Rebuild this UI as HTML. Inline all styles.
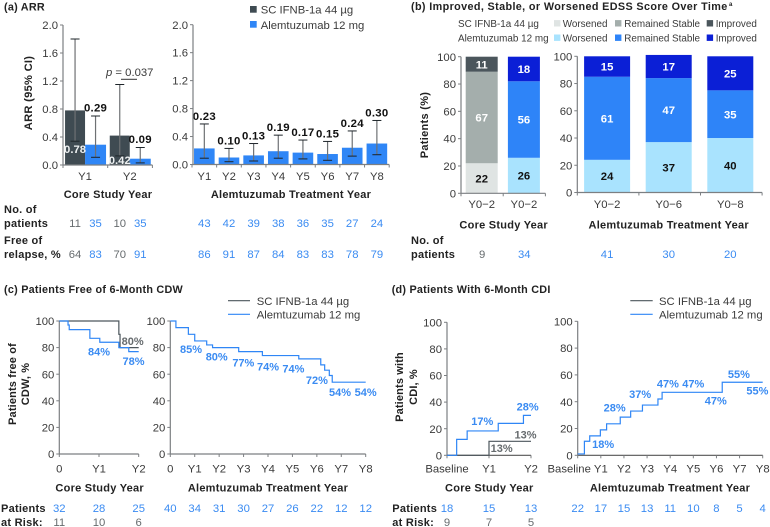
<!DOCTYPE html>
<html lang="en">
<head>
<meta charset="utf-8">
<title>ARR, EDSS, CDW and CDI outcomes</title>
<style>
html,body{margin:0;padding:0;background:#fff;}
#figure{display:block;width:770px;height:527px;font-family:"Liberation Sans",Arial,sans-serif;}
</style>
</head>
<body>
<svg id="figure" xmlns="http://www.w3.org/2000/svg" width="770" height="527" viewBox="0 0 770 527"></svg>
<script>
// ---------- Panel (a) data ----------
const arrCoreYears = ['Y1', 'Y2'];
const arrCoreIfnb = [0.78, 0.42];
const arrCoreIfnbLow = [0.34, 0.13];
const arrCoreIfnbHigh = [1.80, 1.15];
const arrCoreAlem = [0.29, 0.09];
const arrCoreAlemLow = [0.11, 0.03];
const arrCoreAlemHigh = [0.70, 0.25];
const arrTicks = [0, 0.4, 0.8, 1.2, 1.6, 2.0];
const arrLongYears = ['Y1', 'Y2', 'Y3', 'Y4', 'Y5', 'Y6', 'Y7', 'Y8'];
const arrLong = [0.23, 0.10, 0.13, 0.19, 0.17, 0.15, 0.24, 0.30];
const arrLongLow = [0.09, 0.04, 0.05, 0.09, 0.08, 0.06, 0.12, 0.14];
const arrLongHigh = [0.58, 0.23, 0.30, 0.42, 0.35, 0.33, 0.48, 0.63];
const arrPatientsCore = [11, 35, 10, 35];
const arrFreeCore = [64, 83, 70, 91];
const arrPatientsLong = [43, 42, 39, 38, 36, 35, 27, 24];
const arrFreeLong = [86, 91, 87, 84, 83, 83, 78, 79];

// ---------- Panel (b) data ----------
const edssCoreCats = ['Y0\u22122', 'Y0\u22122'];
const edssCoreWorsened = [22, 26];
const edssCoreStable = [67, 56];
const edssCoreImproved = [11, 18];
const edssLongCats = ['Y0\u22122', 'Y0\u22126', 'Y0\u22128'];
const edssLongWorsened = [24, 37, 40];
const edssLongStable = [61, 47, 35];
const edssLongImproved = [15, 17, 25];
const edssTicks = [0, 20, 40, 60, 80, 100];
const edssPatientsCore = [9, 34];
const edssPatientsLong = [41, 30, 20];

// ---------- Panel (c) data ----------
const pctTicks = [0, 20, 40, 60, 80, 100];
const cCoreXLabels = ['0', 'Y1', 'Y2'];
const cLongXLabels = ['0', 'Y1', 'Y2', 'Y3', 'Y4', 'Y5', 'Y6', 'Y7', 'Y8'];
const cCoreIfnbTime = [0, 1.5, 1.53, 2];
const cCoreIfnbValue = [100, 90, 80, 80];
const cCoreAlemTime = [0, 0.22, 0.25, 0.77, 1.02, 1.5, 1.75, 2];
const cCoreAlemValue = [100, 97, 93.5, 87, 84, 80, 77, 77];
const cLongAlemTime = [0, 0.23, 0.74, 1.0, 1.49, 1.73, 2.8, 3.77, 5.26, 6.16, 6.32, 6.51, 6.63, 8];
const cLongAlemValue = [100, 95, 90, 85, 82, 80, 77, 74, 71.5, 67, 63, 59, 54, 54];
const cCoreAlemLabels = [84, 78];
const cCoreIfnbLabels = [80];
const cLongLabels = [85, 80, 77, 74, 74, 72, 54, 54];
const cCoreRiskAlem = [32, 28, 25];
const cCoreRiskIfnb = [11, 10, 6];
const cLongRisk = [40, 34, 31, 30, 27, 26, 22, 12, 12];

// ---------- Panel (d) data ----------
const dCoreXLabels = ['Baseline', 'Y1', 'Y2'];
const dLongXLabels = ['Baseline', 'Y1', 'Y2', 'Y3', 'Y4', 'Y5', 'Y6', 'Y7', 'Y8'];
const dCoreIfnbTime = [0, 1, 2];
const dCoreIfnbValue = [0, 10.5, 10.5];
const dCoreAlemTime = [0, 0.23, 0.48, 1.22, 1.82, 2];
const dCoreAlemValue = [0, 12, 18.3, 24, 30, 30];
const dLongAlemTime = [0, 0.29, 0.52, 0.98, 1.25, 1.84, 2.29, 2.8, 3.47, 3.65, 6.25, 8];
const dLongAlemValue = [1, 10.5, 14.5, 19, 23.5, 28.5, 33, 37.5, 42, 47, 54.5, 54.5];
const dCoreAlemLabels = [17, 28];
const dCoreIfnbLabels = [13, 13];
const dLongLabels = [18, 28, 37, 47, 47, 47, 55, 55];
const dCoreRiskAlem = [18, 15, 13];
const dCoreRiskIfnb = [9, 7, 5];
const dLongRisk = [22, 17, 15, 13, 11, 10, 8, 5, 4];

// ---------- Colours ----------
const BLUE = '#2f86f6', TXTBLUE = '#3a8bf2', DARK = '#3f4b52', TXT = '#3a3a3a', GREY = '#666b6e', AXIS = '#7c7f82', INK = '#1d2429';
const FS = 11.3;

const root = document.getElementById('figure');
const NS = 'http://www.w3.org/2000/svg';

function el(tag, name, attrs) {
  const e = document.createElementNS(NS, tag);
  
  
  for (const k in attrs) e.setAttribute(k, attrs[k]);
  root.appendChild(e);
  return e;
}
function line(name, x1, y1, x2, y2, stroke, w) {
  return el('line', name, {x1, y1, x2, y2, stroke, 'stroke-width': w || 1});
}
function rect(name, x, y, w, h, fill) {
  return el('rect', name, {x, y, width: w, height: h, fill});
}
function text(name, str, x, y, o) {
  o = o || {};
  const e = el('text', name, {
    x, y: y + (o.size || FS) * 0.36,
    'font-size': o.size || FS,
    'font-weight': o.bold ? 700 : 400,
    'text-anchor': o.anchor || 'middle',
    fill: o.fill || TXT,
    'letter-spacing': o.ls || 0
  });
  if (o.rot) e.setAttribute('transform', 'rotate(-90 ' + x + ' ' + y + ')');
  if (o.italicP) {
    const p = document.createElementNS(NS, 'tspan');
    p.setAttribute('font-style', 'italic');
    p.textContent = 'p';
    e.appendChild(p);
    e.appendChild(document.createTextNode(str));
  } else {
    e.textContent = str;
  }
  return e;
}
function title(name, str, x, y, ls) { return text(name, str, x, y, {bold: true, anchor: 'start', size: 10.8, fill: '#222', ls: ls || 0.25}); }
function bold(name, str, x, y, o) { return text(name, str, x, y, Object.assign({bold: true, size: 11, fill: '#222', ls: 0.25}, o || {})); }
function yTitle(name, str, x, y, size, ls) { return text(name, str, x, y, {bold: true, rot: true, size: size, fill: '#222', ls: ls}); }

function linear(d0, d1, r0, r1) { return v => r0 + (v - d0) / (d1 - d0) * (r1 - r0); }

function yAxis(name, x, y, ticks, fmt) {
  const all = ticks.map(y);
  line(name + '-line', x, Math.min(...all), x, Math.max(...all), AXIS, 1.2);
  ticks.forEach(t => {
    line(name + '-tick', x - 3, y(t), x, y(t), AXIS, 1);
    text(name + '-label', fmt(t), x - 5, y(t), {anchor: 'end'});
  });
}

function ci(name, x, lo, hi, y, capHalf) {
  line(name + '-stem', x, y(hi), x, y(lo), '#6e7174', 1.2);
  line(name + '-cap-high', x - capHalf, y(hi), x + capHalf, y(hi), INK, 1);
  line(name + '-cap-low', x - capHalf, y(lo), x + capHalf, y(lo), INK, 1);
}

// ---------- Panel (a) ----------
title('panel-a-title', '(a) ARR', 4, 6.5);
rect('legend-swatch-ifnb', 250, 6, 6.7, 6.7, DARK);
text('legend-label-ifnb', 'SC IFNB-1a 44 \u00b5g', 260.7, 9.5, {anchor: 'start'});
rect('legend-swatch-alemtuzumab', 250, 21, 6.7, 6.7, BLUE);
text('legend-label-alemtuzumab', 'Alemtuzumab 12 mg', 260.7, 24.7, {anchor: 'start'});

(function () {
  const y = linear(0, 2, 165, 25);
  const x0 = 63, step = 44.7;
  const cx = i => x0 + (i + 0.5) * step;
  arrCoreYears.forEach((c, i) => {
    const m = cx(i) - 0.3;
    rect('bar-ifnb-' + c, m - 20, y(arrCoreIfnb[i]), 20, y(0) - y(arrCoreIfnb[i]), DARK);
    rect('bar-alemtuzumab-' + c, m, y(arrCoreAlem[i]), 21, y(0) - y(arrCoreAlem[i]), BLUE);
    ci('ci-ifnb-' + c, m - 10, arrCoreIfnbLow[i], arrCoreIfnbHigh[i], y, 4.5);
    ci('ci-alemtuzumab-' + c, m + 10.5, arrCoreAlemLow[i], arrCoreAlemHigh[i], y, 4.5);
    text('value-ifnb-' + c, arrCoreIfnb[i].toFixed(2), m - 10, y(0) - [16, 5][i], {bold: true, fill: '#eef1f2', size: 11.3});
    bold('value-alemtuzumab-' + c, arrCoreAlem[i].toFixed(2), m + 10.5, y(arrCoreAlemHigh[i]) - 8.5, {size: 11.4, fill: '#111'});
    text('x-label-' + c, c, m, 175.7);
    line('x-tick-' + c, x0 + (i + 1) * step, y(0), x0 + (i + 1) * step, y(0) + 3, AXIS, 1);
  });
  line('x-axis-line', x0, y(0), x0 + 2 * step, y(0), AXIS, 1.2);
  line('x-tick-origin', x0, y(0), x0, y(0) + 3, AXIS, 1);
  yAxis('arr-core-y-axis', x0, y, arrTicks, t => t.toFixed(1));
  text('p-value', ' = 0.037', 106, 71.7, {anchor: 'start', italicP: true});
  line('p-value-bracket', 121, 79.3, 137, 79.3, '#333', 1);
  yTitle('y-axis-title-arr', 'ARR (95% CI)', 28, 93, 11.2, 0.25);
  bold('x-axis-title-core', 'Core Study Year', 108, 194);

  const y2 = linear(0, 2, 164.5, 24.7);
  const xr0 = 192, sr = 24.65;
  const cr = i => xr0 + (i + 0.5) * sr;
  arrLongYears.forEach((c, i) => {
    rect('bar-long-' + c, cr(i) - 10.3, y2(arrLong[i]), 20.6, y2(0) - y2(arrLong[i]), BLUE);
    ci('ci-long-' + c, cr(i), arrLongLow[i], arrLongHigh[i], y2, 4.5);
    bold('value-long-' + c, arrLong[i].toFixed(2), cr(i), y2(arrLongHigh[i]) - 8, {size: 11.4, fill: '#111'});
    text('x-label-long-' + c, c, cr(i), 175.7);
    line('x-tick-long', xr0 + (i + 1) * sr, y2(0), xr0 + (i + 1) * sr, y2(0) + 3, AXIS, 1);
  });
  line('x-axis-line-long', xr0, y2(0), xr0 + 8 * sr, y2(0), AXIS, 1.2);
  line('x-tick-long-origin', xr0, y2(0), xr0, y2(0) + 3, AXIS, 1);
  yAxis('arr-long-y-axis', xr0 + 1, y2, arrTicks, t => t.toFixed(1));
  bold('x-axis-title-long', 'Alemtuzumab Treatment Year', 291, 194);

  bold('row-label-patients-1', 'No. of', 4, 209, {anchor: 'start'});
  bold('row-label-patients-2', 'patients', 4, 223, {anchor: 'start'});
  bold('row-label-relapse-1', 'Free of', 4, 240, {anchor: 'start'});
  bold('row-label-relapse-2', 'relapse, %', 4, 254, {anchor: 'start'});
  const coreXs = i => cx(Math.floor(i / 2)) - 0.3 + (i % 2 ? 10.5 : -10);
  arrPatientsCore.forEach((v, i) => text('patients-core', String(v), coreXs(i), 223, {fill: i % 2 ? TXTBLUE : GREY}));
  arrFreeCore.forEach((v, i) => text('free-of-relapse-core', String(v), coreXs(i), 254, {fill: i % 2 ? TXTBLUE : GREY}));
  arrPatientsLong.forEach((v, i) => text('patients-long', String(v), cr(i), 223, {fill: TXTBLUE}));
  arrFreeLong.forEach((v, i) => text('free-of-relapse-long', String(v), cr(i), 254, {fill: TXTBLUE}));
})();

// ---------- Panel (b) ----------
title('panel-b-title', '(b) Improved, Stable, or Worsened EDSS Score Over Time', 411, 6, 0.37);
text('panel-b-footnote', 'a', 729, 3.6, {bold: true, size: 6, anchor: 'start', fill: '#222'});

const EDSS_IFNB = ['#dfe4e3', '#a4aeac', '#4b565c'];
const EDSS_ALEM = ['#a9e3fe', '#2e84f8', '#0b1fd6'];

(function () {
  const LS = 9.9;
  const rows = [[23.3, 'SC IFNB-1a 44 \u00b5g', EDSS_IFNB, 'ifnb'], [37.7, 'Alemtuzumab 12 mg', EDSS_ALEM, 'alemtuzumab']];
  rows.forEach(r => {
    text('legend-b-row-' + r[3], r[1], 458, r[0], {anchor: 'start', size: LS});
    rect('legend-b-worsened-' + r[3], 554, r[0] - 3.2, 6.4, 6.4, r[2][0]);
    text('legend-b-worsened-label', 'Worsened', 562.7, r[0], {anchor: 'start', size: LS});
    rect('legend-b-stable-' + r[3], 615, r[0] - 3.2, 6.4, 6.4, r[2][1]);
    text('legend-b-stable-label', 'Remained Stable', 624.3, r[0], {anchor: 'start', size: LS});
    rect('legend-b-improved-' + r[3], 706.7, r[0] - 3.2, 6.4, 6.4, r[2][2]);
    text('legend-b-improved-label', 'Improved', 715.7, r[0], {anchor: 'start', size: LS});
  });

  function stacked(id, i, cx, w, y, colors, cat, vals) {
    let base = 0;
    const labelFill = ['#111', '#fff', '#fff'];
    const seg = ['worsened', 'stable', 'improved'];
    vals.forEach((v, k) => {
      rect('bar-' + id + '-' + seg[k] + '-' + i, cx - w / 2, y(base + v), w, y(base) - y(base + v), colors[k]);
      text('value-' + id + '-' + seg[k] + '-' + i, String(v), cx, (y(base) + y(base + v)) / 2, {bold: true, fill: labelFill[k], size: 11.3});
      base += v;
    });
    text('x-label-' + id + '-' + i, cat, cx, 204);
  }

  const y = linear(0, 100, 193.3, 56.7);
  const x0 = 461, step = 42.2;
  edssCoreCats.forEach((c, i) => {
    stacked('edss-core', i, x0 + (i + 0.5) * step - 0.4, 32, y, i === 0 ? EDSS_IFNB : EDSS_ALEM, c,
      [edssCoreWorsened[i], edssCoreStable[i], edssCoreImproved[i]]);
    line('x-tick-edss-core', x0 + (i + 1) * step, y(0), x0 + (i + 1) * step, y(0) + 3, AXIS, 1);
    text('patients-edss-core', String(edssPatientsCore[i]), x0 + (i + 0.5) * step, 254, {fill: i ? TXTBLUE : GREY});
  });
  line('x-axis-line-edss-core', x0, y(0), x0 + 2 * step, y(0), AXIS, 1.2);
  line('x-tick-edss-core-origin', x0, y(0), x0, y(0) + 3, AXIS, 1);
  yAxis('edss-core-y-axis', x0, y, edssTicks, String);

  const y2 = linear(0, 100, 192.5, 56.3);
  const xr0 = 577.3, sr = 61.6;
  edssLongCats.forEach((c, i) => {
    stacked('edss-long', i, xr0 + (i + 0.5) * sr - 1, 46, y2, EDSS_ALEM, c,
      [edssLongWorsened[i], edssLongStable[i], edssLongImproved[i]]);
    line('x-tick-edss-long', xr0 + (i + 1) * sr, y2(0), xr0 + (i + 1) * sr, y2(0) + 3, AXIS, 1);
    text('patients-edss-long', String(edssPatientsLong[i]), xr0 + (i + 0.5) * sr - 1, 254, {fill: TXTBLUE});
  });
  line('x-axis-line-edss-long', xr0, y2(0), xr0 + 3 * sr, y2(0), AXIS, 1.2);
  line('x-tick-edss-long-origin', xr0, y2(0), xr0, y2(0) + 3, AXIS, 1);
  yAxis('edss-long-y-axis', xr0, y2, edssTicks, String);

  yTitle('y-axis-title-patients', 'Patients (%)', 424, 125, 11, 0.3);
  bold('x-axis-title-edss-core', 'Core Study Year', 503.7, 224.7);
  bold('x-axis-title-edss-long', 'Alemtuzumab Treatment Year', 668.7, 224.7);
  bold('row-label-edss-patients-1', 'No. of', 411, 240, {anchor: 'start'});
  bold('row-label-edss-patients-2', 'patients', 411, 254, {anchor: 'start'});
})();

// ---------- Panels (c) and (d) ----------
function stepPath(name, times, values, x, y, color) {
  let d = 'M' + x(times[0]) + ' ' + y(values[0]);
  for (let i = 1; i < times.length; i++) {
    d += ' H' + x(times[i]) + ' V' + y(values[i]);
  }
  el('path', name, {d, fill: 'none', stroke: color, 'stroke-width': 1.2});
}
function kmAxes(id, xr0, xr1, x, y, xLabels, labelY, firstShift) {
  line(id + '-x-axis', xr0, y(0), xr1, y(0), id.startsWith('d') ? '#555' : AXIS, 1.2);
  xLabels.forEach((l, i) => {
    line(id + '-x-tick', x(i), y(0), x(i), y(0) + 3, AXIS, 1);
    text(id + '-x-label', l, x(i) + (i === 0 ? firstShift : 0), labelY);
  });
  yAxis(id + '-y-axis', xr0, y, pctTicks, String);
}
function kmLabels(id, values, placements, x, y, fill) {
  values.forEach((v, i) => {
    const p = placements[i];
    text(id + '-annotation', v + '%', x(p[0]), y(v) + p[1], {bold: true, fill, size: 11});
  });
}
function kmLegend(id, x1, x2, tx) {
  line(id + '-legend-line-ifnb', x1, 300.7, x2, 300.7, '#4c565c', 1.2);
  text(id + '-legend-label-ifnb', 'SC IFNB-1a 44 \u00b5g', tx, 300.7, {anchor: 'start'});
  line(id + '-legend-line-alemtuzumab', x1, 314.3, x2, 314.3, BLUE, 1.2);
  text(id + '-legend-label-alemtuzumab', 'Alemtuzumab 12 mg', tx, 314.3, {anchor: 'start'});
}

(function () {
  title('panel-c-title', '(c) Patients Free of 6-Month CDW', 4, 289);
  kmLegend('cdw', 228, 250, 256.7);
  const y = linear(0, 100, 454, 321);

  const x = linear(0, 2, 59.3, 138.7);
  kmAxes('cdw-core', 59.3, 138.7, x, y, cCoreXLabels, 468.3, 0);
  stepPath('cdw-core-ifnb-curve', cCoreIfnbTime, cCoreIfnbValue, x, y, '#4c565c');
  stepPath('cdw-core-alemtuzumab-curve', cCoreAlemTime, cCoreAlemValue, x, y, BLUE);
  kmLabels('cdw-core-alemtuzumab', cCoreAlemLabels, [[1, 9.3], [1.87, 10.8]], x, y, TXTBLUE);
  kmLabels('cdw-core-ifnb', cCoreIfnbLabels, [[2.0, -6.7]], t => x(t) - 6, y, GREY);

  const x2 = linear(0, 8, 170.3, 365.7);
  kmAxes('cdw-long', 170.3, 365.7, x2, y, cLongXLabels, 468.3, 0);
  stepPath('cdw-long-alemtuzumab-curve', cLongAlemTime, cLongAlemValue, x2, y, BLUE);
  kmLabels('cdw-long', cLongLabels,
    [[0.85, 8], [1.9, 8.7], [2.99, 11], [4, 11], [5.04, 13], [6, 22], [6.95, 10], [8, 10]], x2, y, TXTBLUE);

  yTitle('y-axis-title-cdw-1', 'Patients free of', 12, 384, 11, 0.15);
  yTitle('y-axis-title-cdw-2', 'CDW, %', 25, 384, 11, 0.15);
  bold('x-axis-title-cdw-core', 'Core Study Year', 99.7, 487.7);
  bold('x-axis-title-cdw-long', 'Alemtuzumab Treatment Year', 268, 487.7);
  bold('risk-label-cdw-1', 'Patients', 1, 508, {anchor: 'start'});
  bold('risk-label-cdw-2', 'at Risk:', 1, 522, {anchor: 'start'});
  cCoreRiskAlem.forEach((v, i) => text('cdw-core-risk-alemtuzumab', String(v), x(i), 508, {fill: TXTBLUE}));
  cCoreRiskIfnb.forEach((v, i) => text('cdw-core-risk-ifnb', String(v), x(i), 522, {fill: GREY}));
  cLongRisk.forEach((v, i) => text('cdw-long-risk', String(v), x2(i), 508, {fill: TXTBLUE}));
})();

(function () {
  title('panel-d-title', '(d) Patients With 6-Month CDI', 391.7, 289);
  kmLegend('cdi', 630.3, 652.7, 659);

  const y = linear(0, 100, 455.3, 322.3);
  const x = linear(0, 2, 447, 531);
  kmAxes('d-cdi-core', 447, 531, x, y, dCoreXLabels, 468.3, 0);
  stepPath('cdi-core-ifnb-curve', dCoreIfnbTime, dCoreIfnbValue, x, y, '#4c565c');
  stepPath('cdi-core-alemtuzumab-curve', dCoreAlemTime, dCoreAlemValue, x, y, BLUE);
  kmLabels('cdi-core-alemtuzumab', dCoreAlemLabels, [[0.84, -11.7], [1.92, -11.7]], x, y, TXTBLUE);
  kmLabels('cdi-core-ifnb', dCoreIfnbLabels, [[1.87, -3.7], [1.3, 10]], x, y, GREY);

  const y2 = linear(0, 100, 455.3, 321.3);
  const x2 = linear(0, 8, 577.7, 762.7);
  kmAxes('d-cdi-long', 577.7, 762.7, x2, y2, dLongXLabels, 468.3, -8.5);
  stepPath('cdi-long-alemtuzumab-curve', dLongAlemTime, dLongAlemValue, x2, y2, BLUE);
  kmLabels('cdi-long', dLongLabels,
    [[1.1, 12.7], [1.6, -10], [2.7, -11.7], [3.9, -8.7], [5.0, -8.7], [5.97, 8], [6.97, -7.7], [7.77, 9]], x2, y2, TXTBLUE);

  yTitle('y-axis-title-cdi-1', 'Patients with', 399, 387, 11, 0.15);
  yTitle('y-axis-title-cdi-2', 'CDI, %', 413, 387, 11, 0.15);
  bold('x-axis-title-cdi-core', 'Core Study Year', 489.3, 487.7);
  bold('x-axis-title-cdi-long', 'Alemtuzumab Treatment Year', 670, 487.7);
  bold('risk-label-cdi-1', 'Patients', 392.3, 508, {anchor: 'start'});
  bold('risk-label-cdi-2', 'at Risk:', 392.3, 522, {anchor: 'start'});
  dCoreRiskAlem.forEach((v, i) => text('cdi-core-risk-alemtuzumab', String(v), x(i), 508, {fill: TXTBLUE}));
  dCoreRiskIfnb.forEach((v, i) => text('cdi-core-risk-ifnb', String(v), x(i), 522, {fill: GREY}));
  dLongRisk.forEach((v, i) => text('cdi-long-risk', String(v), x2(i), 508, {fill: TXTBLUE}));
})();
</script>
</body>
</html>
